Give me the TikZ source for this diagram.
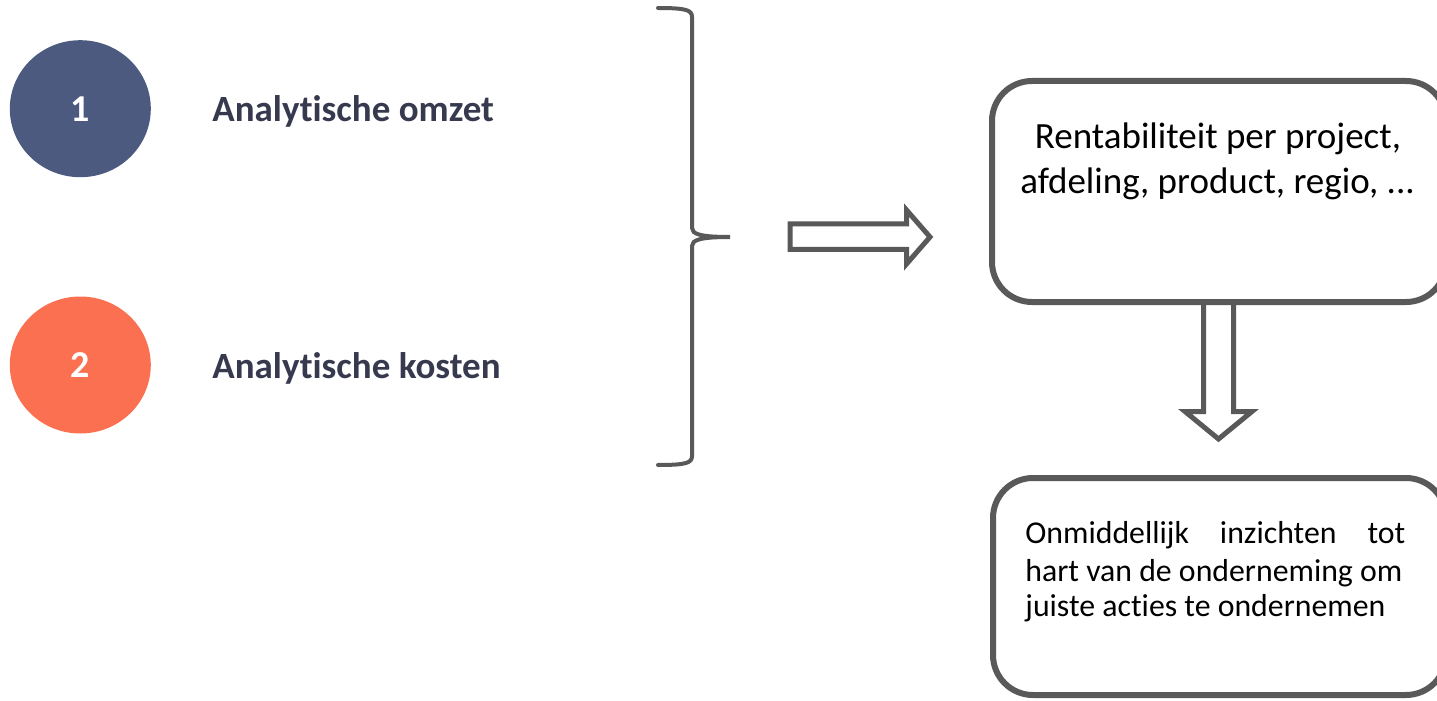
\documentclass[tikz,border=0pt]{standalone}
\usepackage{fontspec}
\setmainfont{Carlito}[Ligatures=NoCommon]
\usetikzlibrary{shapes.geometric}
\definecolor{navy}{HTML}{4B5A7E}
\definecolor{coral}{HTML}{FC7052}
\definecolor{ink}{HTML}{373A4E}
\definecolor{strokegray}{HTML}{595959}
\begin{document}
\begin{tikzpicture}[x=0.5pt,y=-0.5pt,
 numdisk/.style={ellipse, minimum width=70.5pt, minimum height=68.5pt, inner sep=0pt, text=white, font=\fontsize{19}{23}\selectfont\bfseries},
 lbl/.style={anchor=base west, inner sep=0pt, text=ink, font=\fontsize{18.5}{22}\selectfont\bfseries},
 card/.style={draw=strokegray, line width=3pt, rounded corners=20pt, fill=white, inner sep=0pt},
 txt/.style={inner sep=0pt, anchor=base, font=\fontsize{18.5}{22}\selectfont},
 smalltxt/.style={inner sep=0pt, anchor=base west, font=\fontsize{15.9}{18.5}\selectfont},
 blockarrow/.style={draw=strokegray, line width=2.5pt, fill=white, line join=miter},
 bracestyle/.style={draw=strokegray, line width=2pt, line cap=round}]
\useasboundingbox (0,0) rectangle (1437,701);
\clip (0,0) rectangle (1437,701);

% numbered discs and labels
\node[numdisk, fill=navy] (c1) at (80.3,108.7) {1};
\node[numdisk, fill=coral] (c2) at (80.3,365) {2};
\node[lbl] (l1) at (212,121.7) {Analytische omzet};
\node[lbl] (l2) at (212,378.3) {Analytische kosten};

% brace
\coordinate (bracetip) at (730,237);
\draw[bracestyle] (658,8) .. controls (686,8) and (692,10) .. (692,17) -- (692,228)
  .. controls (692,234) and (700,237) .. (bracetip)
  .. controls (700,237) and (692,240) .. (692,246) -- (692,456)
  .. controls (692,463) and (686,465) .. (658,465);

% right block arrow
\draw[blockarrow] (790,224) -- (906.5,224) -- (906.5,210) -- (930,237) -- (906.5,264) -- (906.5,249.5) -- (790,249.5) -- cycle;

% down block arrow (drawn before box so box border stays on top)
\draw[blockarrow] (1203.5,302) -- (1203.5,411.5) -- (1185,411.5) -- (1218.5,439) -- (1252,411.5) -- (1233.5,411.5) -- (1233.5,302);

% box 1
\node[card, minimum width=227pt, minimum height=110.5pt] (box1) at (1219,191.5) {};
\node[txt] (r1) at (1218,148.3) {Rentabiliteit per project,};
\node[txt] (r2) at (1217.5,193.3) {afdeling, product, regio, ...};

% box 2
\node[card, minimum width=226.5pt, minimum height=108.5pt] (box2) at (1219.5,586.5) {};
\node[smalltxt] (o1) at (1025,543.3) {\makebox[190pt][s]{Onmiddellijk inzichten tot}};
\node[smalltxt] (o2) at (1025,581.5) {hart van de onderneming om};
\node[smalltxt] (o3) at (1025,616.7) {juiste acties te ondernemen};
\end{tikzpicture}
\end{document}
